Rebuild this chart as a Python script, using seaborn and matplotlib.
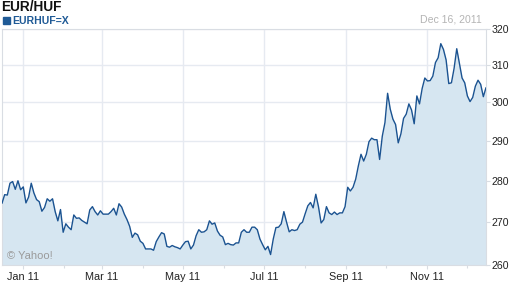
import numpy as np
import pandas as pd
import matplotlib
matplotlib.use("Agg")
import matplotlib.pyplot as plt
import matplotlib.dates as mdates
import matplotlib.ticker as mticker
from matplotlib.patches import Rectangle
import seaborn as sns

title = "EUR/HUF"
symbol = "EURHUF=X"
date_label = "Dec 16, 2011"
start_date = "2010-12-16"
end_date = "2011-12-15"
y_ticks = [260, 270, 280, 290, 300, 310, 320]

rate = [
    274.5, 276.6, 276.5, 279.4, 279.8, 277.9, 280.0, 277.8, 278.5, 274.6,
    276.0, 279.4, 277.0, 275.4, 274.9, 272.6, 273.5, 275.6, 275.0, 275.6,
    272.5, 270.3, 273.0, 267.6, 269.6, 268.8, 268.2, 271.7, 270.9, 271.0,
    270.4, 270.0, 269.6, 272.9, 273.7, 272.5, 271.7, 272.7, 271.9, 271.9,
    271.9, 272.5, 273.3, 271.7, 274.4, 273.6, 271.9, 270.6, 269.0, 266.4,
    267.4, 267.0, 265.5, 265.0, 263.7, 263.7, 263.7, 263.4, 265.4, 266.5,
    267.5, 267.2, 264.3, 264.1, 264.5, 264.2, 264.0, 263.7, 264.6, 265.4,
    265.5, 263.7, 264.6, 266.8, 268.2, 267.6, 267.7, 268.2, 270.3, 269.5,
    269.8, 267.9, 266.9, 266.5, 264.7, 265.0, 264.7, 264.6, 265.1, 265.1,
    267.6, 268.2, 267.6, 267.6, 268.8, 268.8, 268.2, 266.0, 264.7, 263.5,
    264.3, 262.4, 266.0, 268.7, 268.8, 269.6, 272.5, 270.0, 267.7, 268.2,
    268.0, 268.2, 269.5, 270.0, 272.0, 273.9, 274.7, 273.4, 276.7, 273.7,
    269.8, 270.6, 273.7, 272.2, 271.8, 272.4, 271.8, 272.2, 272.2, 273.7,
    278.4, 277.5, 278.4, 280.4, 283.7, 286.6, 284.9, 286.6, 289.8, 290.7,
    290.3, 290.3, 285.3, 291.2, 294.7, 302.4, 298.2, 295.6, 294.2, 289.5,
    291.8, 295.8, 296.9, 299.6, 298.0, 294.4, 301.7, 299.6, 303.7, 306.5,
    305.7, 305.8, 307.0, 310.7, 312.0, 315.9, 314.3, 311.4, 305.0, 305.2,
    309.1, 314.5, 310.4, 306.5, 305.2, 301.7, 300.2, 301.3, 304.3, 305.9,
    304.8, 301.5, 303.9,
]

dates = pd.date_range(start_date, end_date, periods=len(rate))
df = pd.DataFrame({"date": dates, "rate": rate})

sns.set_style("white")
plt.rcParams["font.family"] = ["Liberation Sans", "DejaVu Sans"]

line_color = "#1b5391"
fill_color = "#d6e6f1"
grid_color = "#e6eaf1"
spine_color = "#d9dde3"

fig = plt.figure(figsize=(5.12, 2.88), dpi=100)
ax = fig.add_axes([2 / 512, 1 - 265 / 288, 484 / 512, 236 / 288])

ax.fill_between(df["date"], df["rate"], y_ticks[0], color=fill_color, lw=0, zorder=1)
sns.lineplot(data=df, x="date", y="rate", ax=ax, color=line_color, lw=1.0, zorder=3)

ax.set_yscale("log")
ax.set_ylim(y_ticks[0], y_ticks[-1])
ax.set_xlim(df["date"].iloc[0], df["date"].iloc[-1])
ax.yaxis.set_major_locator(mticker.FixedLocator(y_ticks))
ax.yaxis.set_major_formatter(mticker.FixedFormatter([str(v) for v in y_ticks]))
ax.yaxis.set_minor_locator(mticker.NullLocator())
ax.yaxis.set_minor_formatter(mticker.NullFormatter())
ax.yaxis.tick_right()
ax.tick_params(axis="y", which="major", length=3, width=0.8, color=spine_color,
               labelsize=7.6, labelcolor="#222222", pad=1, direction="out", right=True, left=False)

ax.xaxis.set_major_locator(mdates.MonthLocator(bymonth=[1, 3, 5, 7, 9, 11]))
ax.xaxis.set_major_formatter(mdates.DateFormatter("%b %y"))
ax.xaxis.set_minor_locator(mdates.MonthLocator(bymonth=[2, 4, 6, 8, 10, 12]))
ax.tick_params(axis="x", which="major", length=3, width=0.8, color=spine_color,
               labelsize=7.8, labelcolor="#222222", pad=2, direction="out", bottom=True)
ax.tick_params(axis="x", which="minor", length=2, width=0.8, color=spine_color, bottom=True)

ax.grid(True, which="major", color=grid_color, lw=1.0, zorder=0)
ax.set_axisbelow(True)
ax.set_xlabel("")
ax.set_ylabel("")
for side in ["left", "top", "right", "bottom"]:
    ax.spines[side].set_color(spine_color)
    ax.spines[side].set_linewidth(0.8)

fig.text(1.5 / 512, 1 - 7 / 288, title, fontsize=9.8, fontweight="bold", color="#111111",
         va="center", ha="left")
fig.patches.append(Rectangle((3 / 512, 1 - 24 / 288), 7 / 512, 7 / 288,
                             transform=fig.transFigure, color="#1f5a96", figure=fig))
fig.text(12.5 / 512, 1 - 20.5 / 288, symbol, fontsize=7.6, fontweight="bold", color="#1f5a96",
         va="center", ha="left")
fig.text(482 / 512, 1 - 19 / 288, date_label, fontsize=7.6, color="#b4b4b4",
         va="center", ha="right")
fig.text(7 / 512, 1 - 256 / 288, "© Yahoo!", fontsize=8, color="#9a9a9a",
         va="center", ha="left")

fig.savefig("out.png", dpi=100)
